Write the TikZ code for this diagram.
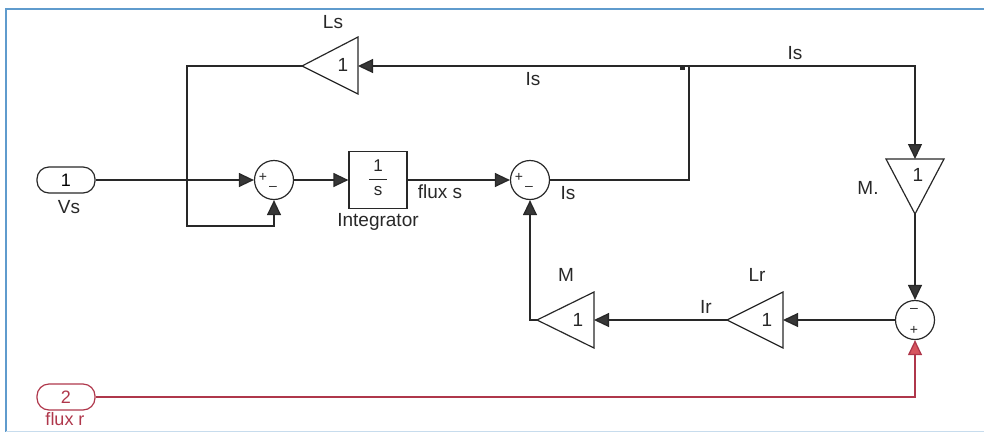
\documentclass[tikz,border=0pt]{standalone}
\usepackage{fontspec}
\setmainfont{Liberation Sans}
\usetikzlibrary{arrows.meta}
\definecolor{ln}{RGB}{40,40,40}
\definecolor{tipc}{RGB}{55,55,55}
\definecolor{rl}{RGB}{175,55,75}
\definecolor{rtip}{RGB}{215,85,95}
\definecolor{frm}{RGB}{95,155,205}
\tikzset{
  wire/.style={draw=ln, line width=1.3pt},
  arr/.style={wire, -{Triangle[length=15pt,width=14pt,fill=tipc]}},
  redarr/.style={draw=rl, line width=1.3pt, -{Triangle[length=15pt,width=14pt,fill=rtip]}},
  sumblk/.style={circle, draw=ln, line width=1.2pt, minimum size=39pt, inner sep=0pt},
  gainbody/.style={draw=ln, line width=1.2pt, fill=white},
  lbl/.style={font=\fontsize{19}{22}\selectfont, text=ln, inner sep=0pt},
  sgn/.style={font=\fontsize{14}{16}\selectfont, text=ln, inner sep=0pt},
  port/.style={draw=ln, line width=1.2pt, rounded corners=12pt, minimum width=58pt, minimum height=26pt, inner sep=0pt, font=\fontsize{18}{20}\selectfont},
}
\begin{document}
\begin{tikzpicture}[x=1pt,y=-1pt]
\useasboundingbox (0,0) rectangle (984,432);
% frame
\draw[frm, line width=1.2pt] (984,9) -- (6,9) -- (6,432);
\draw[frm!35, line width=1pt] (6,431) -- (984,431);

% ports
\node[port] (in1) at (66,180) {1};
\node[lbl] (vs) at (69,207) {Vs};
\node[port, draw=rl, text=rl] (in2) at (66,397) {2};
\node[lbl, text=rl, font=\fontsize{18}{20}\selectfont] (fr) at (65,419) {flux r};

% sums
\node[sumblk] (sum1) at (274,180) {};
\node[sgn] at (263,177) {+};
\node[sgn] at (273,188) {--};
\node[sumblk] (sum2) at (530,180) {};
\node[sgn] at (519,177) {+};
\node[sgn] at (529,188) {--};
\node[sumblk] (sum3) at (915,320) {};
\node[sgn] at (914,310) {--};
\node[sgn] at (914,330) {+};

% integrator
\node[draw=ln, line width=1.2pt, minimum width=58pt, minimum height=57pt, inner sep=0pt] (integ) at (378,180) {};
\node[lbl, font=\fontsize{17}{19}\selectfont] (one) at (378,166) {1};
\draw[ln, line width=0.9pt] (369,179) -- (387,179);
\node[lbl, font=\fontsize{17}{19}\selectfont] (ess) at (378,191) {s};
\node[lbl] (intlbl) at (378,222) {Integrator};

% gain Ls (pointing left)
\draw[gainbody] (358,37) -- (302,66) -- (358,94) -- cycle;
\coordinate (lsin) at (358,66);
\coordinate (lsout) at (302,66);
\node[lbl] (ls1) at (343,65) {1};
\node[lbl] (lslbl) at (333,22) {Ls};

% gain M. (pointing down)
\draw[gainbody] (886,159) -- (915,214) -- (944,159) -- cycle;
\coordinate (mdin) at (915,159);
\coordinate (mdout) at (915,214);
\node[lbl] (md1) at (918,175) {1};
\node[lbl] (mdlbl) at (868,188) {M.};

% gain Lr (pointing left)
\draw[gainbody] (783,292) -- (727,320) -- (783,348) -- cycle;
\coordinate (lrin) at (783,320);
\coordinate (lrout) at (727,320);
\node[lbl] (lr1) at (767,320) {1};
\node[lbl] (lrlbl) at (757,275) {Lr};

% gain M (pointing left)
\draw[gainbody] (594,292) -- (537,320) -- (594,348) -- cycle;
\coordinate (mgin) at (594,320);
\coordinate (mgout) at (537,320);
\node[lbl] (mg1) at (578,320) {1};
\node[lbl] (mglbl) at (566,275) {M};

% helper coordinates
\coordinate (c1) at (187,226);
\coordinate (jn) at (689,66);

% connectors
\draw[arr] (in1) -- (sum1);
\draw[arr] (lsout) -| (c1) -| (sum1.south);
\draw[arr] (sum1) -- (integ);
\draw[arr] (integ) -- (sum2);
\draw[wire] (sum2.east) -| (jn);
\draw[arr] (jn) -- (lsin);
\draw[arr] (jn) -| (mdin);
\fill[ln] (680,65) rectangle (685,70);
\draw[arr] (mdout) -- (sum3);
\draw[arr] (sum3) -- (lrin);
\draw[arr] (lrout) -- (mgin);
\draw[arr] (mgout) -| (sum2.south);
\draw[redarr] (in2) -| (sum3.south);

% signal labels
\node[lbl] at (440,192) {flux s};
\node[lbl] at (568,193) {Is};
\node[lbl] at (533,79) {Is};
\node[lbl] at (795,53) {Is};
\node[lbl] at (706,307) {Ir};
\end{tikzpicture}
\end{document}
